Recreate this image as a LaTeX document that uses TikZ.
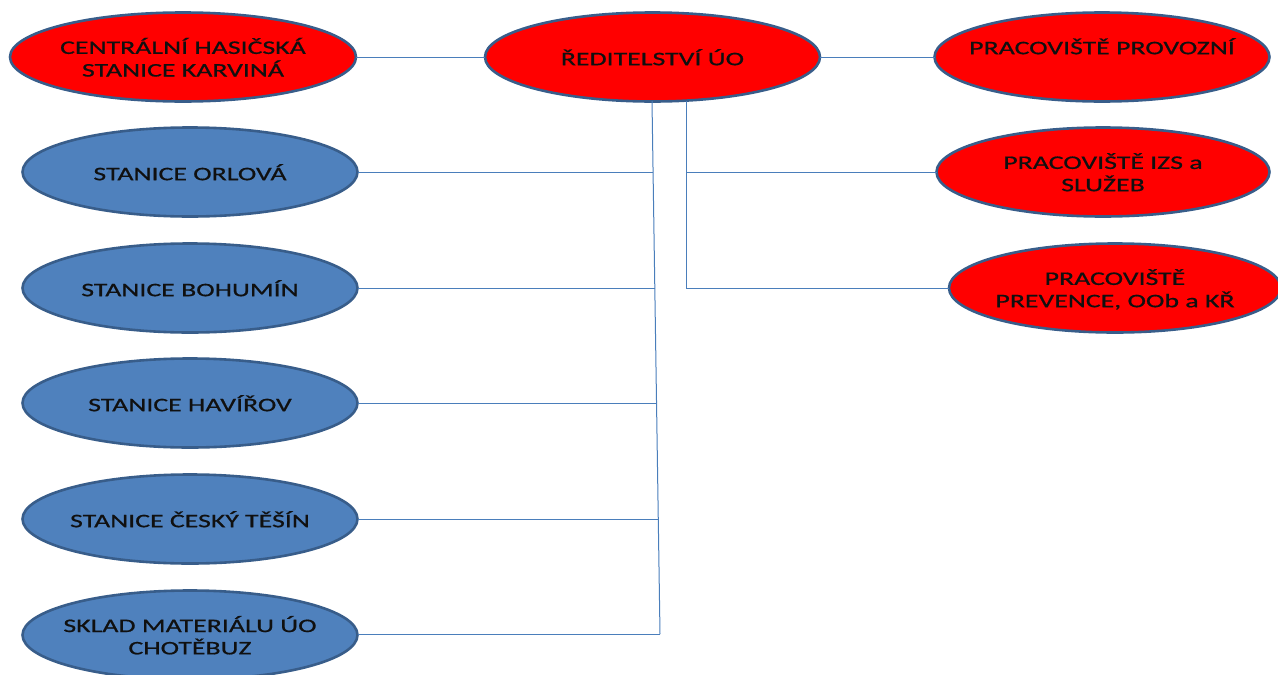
\documentclass[tikz,border=0pt]{standalone}
\usepackage{fontspec}
\setmainfont{Carlito}[FakeStretch=1.45,FakeBold=0.7]
\usetikzlibrary{shapes.geometric,calc}
\definecolor{redfill}{HTML}{FF0000}
\definecolor{bluefill}{HTML}{4F81BD}
\definecolor{rim}{HTML}{385D8A}
\definecolor{conn}{HTML}{4A7EBB}
\definecolor{txt}{HTML}{101010}
\newcommand{\lbl}[1]{\makebox[0pt]{\raisebox{-3.5pt}[\height][\depth]{\begin{tabular}{@{}c@{}}#1\end{tabular}}}}
\begin{document}
\begin{tikzpicture}[x=1pt,y=-1pt,
  el/.style={ellipse,draw=rim,line width=2.6pt,inner sep=0pt,outer sep=0pt,
    minimum height=89pt,text=txt,
    font=\fontsize{19.2}{22}\selectfont},
  redel/.style={el,fill=redfill},
  blueel/.style={el,fill=bluefill},
  link/.style={draw=conn,line width=1pt}]
\useasboundingbox (0,0) rectangle (1278,675);
% red ellipses
\node[redel,minimum width=346pt] (cent) at (183,57) {\lbl{CENTRÁLNÍ HASIČSKÁ\\STANICE KARVINÁ}};
\node[redel,minimum width=335pt] (red) at (652.5,57) {\lbl{ŘEDITELSTVÍ ÚO}};
\node[redel,minimum width=335pt] (prov) at (1102,57) {\lbl{PRACOVIŠTĚ PROVOZNÍ\\\mbox{}}};
\node[redel,minimum width=333pt] (izs) at (1103,172) {\lbl{PRACOVIŠTĚ IZS a\\SLUŽEB}};
\node[redel,minimum width=332pt] (prev) at (1115,288) {\lbl{PRACOVIŠTĚ\\PREVENCE, OOb a KŘ}};
% blue ellipses
\node[blueel,minimum width=335pt] (orl) at (190,172) {\lbl{STANICE ORLOVÁ}};
\node[blueel,minimum width=335pt] (boh) at (190,288) {\lbl{STANICE BOHUMÍN}};
\node[blueel,minimum width=335pt] (hav) at (190,403) {\lbl{STANICE HAVÍŘOV}};
\node[blueel,minimum width=335pt] (ces) at (190,519) {\lbl{STANICE ČESKÝ TĚŠÍN}};
\node[blueel,minimum width=335pt] (skl) at (190,635) {\lbl{SKLAD MATERIÁLU ÚO\\CHOTĚBUZ}};
% connectors
\draw[link] (cent.east) -- (red.west);
\draw[link] (red.east) -- (prov.west);
\coordinate (lt) at (652,101);
\coordinate (lb) at (660,634);
\coordinate (l1) at (653.1,172);
\coordinate (l2) at (654.8,288);
\coordinate (l3) at (656.5,403);
\coordinate (l4) at (658.3,519);
\draw[link] (lt) -- (lb);
\draw[link] (orl.east) -- (l1);
\draw[link] (boh.east) -- (l2);
\draw[link] (hav.east) -- (l3);
\draw[link] (ces.east) -- (l4);
\draw[link] (skl.east |- lb) -- (lb);
\coordinate (rt) at (686,101);
\draw[link] (rt) |- (prev.west);
\draw[link] (izs.west) -- (izs.west -| rt);
\end{tikzpicture}
\end{document}
